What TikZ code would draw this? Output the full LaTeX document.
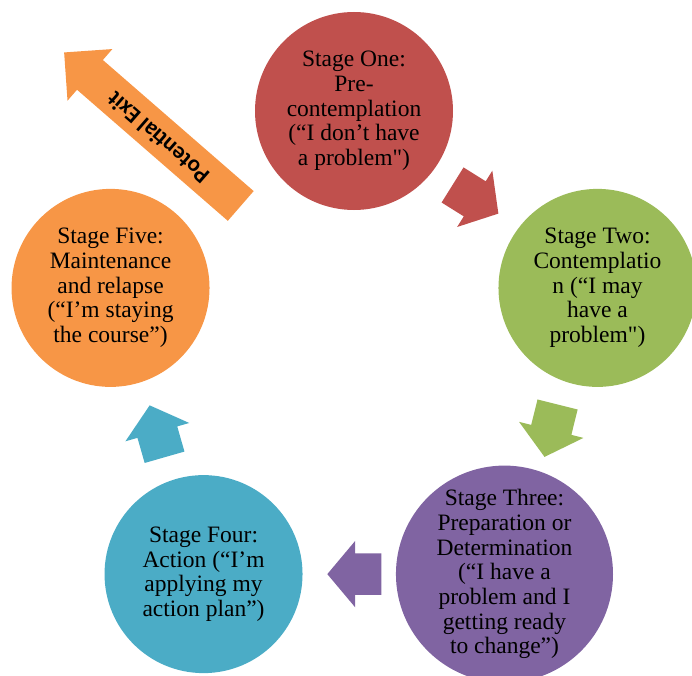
\documentclass[tikz,border=0pt]{standalone}
\usepackage{fontspec}
\setmainfont{Liberation Serif}[Ligatures=TeXOff]
\newfontfamily\exitfont{Carlito}
\usetikzlibrary{shapes.arrows,calc}

\definecolor{redc}{HTML}{C0504D}
\definecolor{greenc}{HTML}{9BBB59}
\definecolor{purplec}{HTML}{8064A2}
\definecolor{tealc}{HTML}{4BACC6}
\definecolor{orangec}{HTML}{F79646}

\begin{document}
\begin{tikzpicture}[
    x=1pt, y=1pt,
    stage/.style={circle, minimum size=198pt, inner sep=0pt, align=center,
      font=\fontsize{23.5}{24.7}\selectfont},
    cyc/.style={single arrow, minimum height=54pt, inner xsep=0pt, inner ysep=20.5pt,
      single arrow head extend=12.5pt, single arrow tip angle=100},
    exitarrow/.style={single arrow, fill=orangec, minimum height=234pt,
      text height=14pt, text depth=4pt, inner ysep=10.5pt, inner xsep=2pt,
      single arrow head extend=14.5pt,
      font=\exitfont\bfseries\fontsize{23}{24}\selectfont}
  ]
  \useasboundingbox (-354,-308) rectangle (338,367);

  % the five stages
  \node[stage, fill=redc] (one) at (90:256) {Stage One:\\Pre-\\contemplation\\(“I don’t have\\a problem")};
  \node[stage, fill=greenc] (two) at (18:256) {Stage Two:\\Contemplatio\\n (“I may\\have a\\problem")};
  \node[stage, fill=purplec] (three) at (-54:256) {Stage Three:\\Preparation or\\Determination\\(“I have a\\problem and I\\getting ready\\to change”)};
  \node[stage, fill=tealc] (four) at (-126:256) {Stage Four:\\Action (“I’m\\applying my\\action plan”)};
  \node[stage, fill=orangec] (five) at (162:256) {Stage Five:\\Maintenance\\and relapse\\(“I’m staying\\the course”)};

  % arrows between stages
  \node[cyc, fill=redc, rotate=-32, xshift=-9pt] (a12) at ($(one)!0.5!(two)$) {};
  \node[cyc, fill=greenc, rotate=-104, xshift=-9pt] (a23) at ($(two)!0.5!(three)$) {};
  \node[cyc, fill=purplec, rotate=180, xshift=-9pt] (a34) at ($(three)!0.5!(four)$) {};
  \node[cyc, fill=tealc, rotate=106, xshift=-9pt] (a45) at ($(four)!0.5!(five)$) {};

  \node[exitarrow, rotate=139] (exit) at (130:302) {Potential Exit};
\end{tikzpicture}
\end{document}
